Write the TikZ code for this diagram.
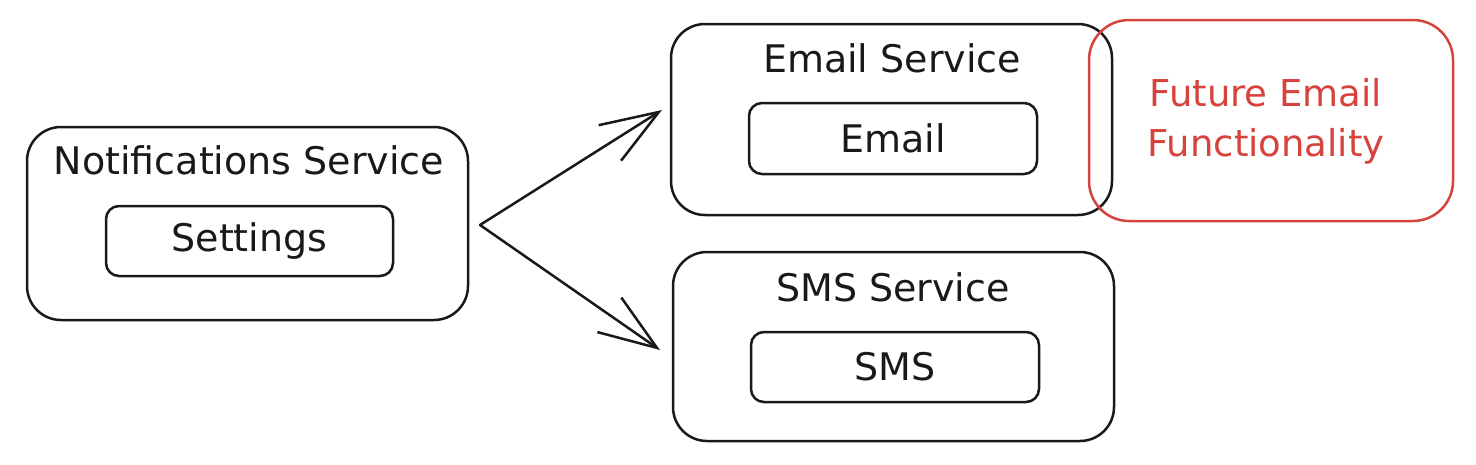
\documentclass[tikz,border=0pt]{standalone}
\usepackage{fontspec}
\setmainfont{DejaVu Sans}
\usetikzlibrary{arrows.meta}
\definecolor{futurered}{RGB}{214,66,60}

\begin{document}
\begin{tikzpicture}[x=1pt,y=1pt,yscale=-1,xscale=1,
  servicebox/.style={draw=black!90,line width=2.5pt,rounded corners=34pt,inner sep=0pt},
  partbox/.style={draw=black!90,line width=2.5pt,rounded corners=13pt,inner sep=0pt},
  futurebox/.style={draw=futurered,line width=2.5pt,rounded corners=40pt,inner sep=0pt},
  label/.style={font=\fontsize{38}{44}\selectfont,text=black!90},
  fork/.style={draw=black!90,line width=2.5pt,line join=round,line cap=round,
    -{Straight Barb[length=58pt,width=42pt,line width=2.5pt]}}]
\useasboundingbox (0,0) rectangle (1476,464);

%Shape: Rectangle [notifications]
\node [servicebox,minimum width=441,minimum height=193] (notif) at (247.5,223.5) {};
%Shape: Rectangle [settings]
\node [partbox,minimum width=287,minimum height=70] (settings) at (249.5,241) {};

%Shape: Rectangle [email service]
\node [servicebox,minimum width=441,minimum height=191] (emailsvc) at (891.5,119.5) {};
%Shape: Rectangle [email]
\node [partbox,minimum width=288,minimum height=71] (email) at (893,138.5) {};

%Shape: Rectangle [sms service]
\node [servicebox,minimum width=441,minimum height=189] (smssvc) at (893.5,346.5) {};
%Shape: Rectangle [sms]
\node [partbox,minimum width=288,minimum height=70] (sms) at (895,367) {};

%Shape: Rectangle [future]
\node [futurebox,minimum width=364,minimum height=201] (future) at (1271,120.5) {};

%Arrows
\coordinate (split) at (480,225);
\coordinate (emailin) at (662,110);
\coordinate (smsin) at (660,350);
\draw [fork] (split) -- (emailin);
\draw [fork] (split) -- (smsin);

% Text Node
\node [label] (notiftitle) at (249,160) {Notifications Service};
% Text Node
\node [label] (settingstext) at (settings) {Settings};
% Text Node
\node [label] (emailsvctitle) at (892,58) {Email Service};
% Text Node
\node [label] (emailtext) at (email) {Email};
% Text Node
\node [label] (smssvctitle) at (893,287) {SMS Service};
% Text Node
\node [label] (smstext) at (sms) {SMS};
% Text Node
\node [label,text=futurered,align=center,font=\fontsize{37}{50}\selectfont] (futuretext) at (1266,121) {Future Email\\Functionality};

\end{tikzpicture}
\end{document}
